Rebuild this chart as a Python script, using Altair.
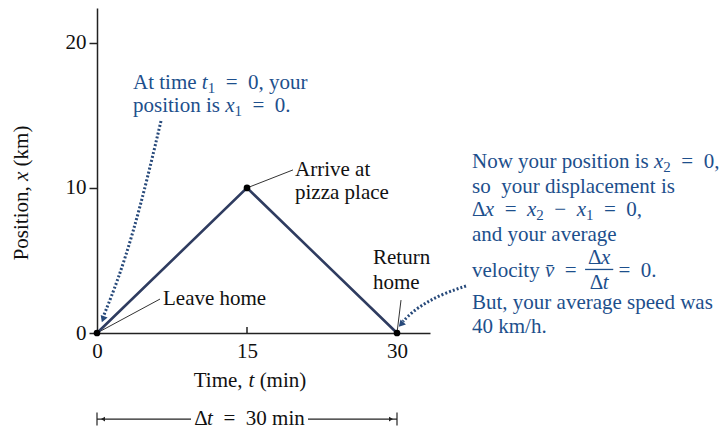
import altair as alt
import pandas as pd

FONT = "Liberation Serif"
BLUE = "#1d4f8c"
DOTS = "#27497a"
INK = "#111111"
NAVY = "#2f3c60"

# Plot-area geometry (pixels) and scale extents
W_PX, H_PX = 333, 325
T_MAX, X_MAX = 33.3, 22.4
PX_PER_MIN = W_PX / T_MAX
PX_PER_KM = H_PX / X_MAX

# Round trip: home -> pizza place -> home
trip_time = [0, 15, 30]
trip_pos = [0, 10, 0]

# Leader lines from a point on the trip to its label
leader_t = [0, 15, 30]
leader_x = [0, 10, 0]
leader_t2 = [6.3, 19.6, 30.4]
leader_x2 = [2.34, 11.24, 2.27]

# Black labels next to the graph
label_text = ["Leave home", "Arrive at", "pizza place", "Return", "home"]
label_t = [6.6, 19.8, 19.8, 27.6, 27.6]
label_x = [2.34, 11.23, 9.65, 5.17, 3.45]

# Dotted curved pointers
arrow1_t = [6.4, 5.0, 3.6, 2.1, 0.7]
arrow1_x = [14.61, 10.54, 6.89, 3.65, 1.25]
arrow2_t = [36.9, 34.8, 33.0, 31.5, 30.6]
arrow2_x = [3.24, 2.76, 2.14, 1.45, 0.8]
head_t = [0.6, 30.4]
head_x = [0.95, 0.6]
head_rot = [21, 43]

# Elapsed-time bracket under the axis
bracket_y = -5.93
bracket_seg_t = [0, 21.1]
bracket_seg_t2 = [9.4, 30]

# Character advances (per 1000 em) for a Times-metric serif
ADV = {" ": 250, "\u00a0": 250, ",": 250, ".": 250, "/": 278, "=": 564, "\u2212": 564,
       "(": 333, ")": 333, "\u0394": 612, "\u0304": 0}
ADV.update({d: 500 for d in "0123456789"})
ADV.update(dict(zip("abcdefghijklmnopqrstuvwxyz",
                    [444, 500, 444, 500, 444, 333, 500, 500, 278, 278, 500, 278, 778,
                     500, 500, 500, 500, 333, 389, 278, 500, 500, 722, 500, 500, 444])))
ADV.update({"A": 722, "B": 667, "N": 722, "P": 556, "T": 611, "L": 611, "R": 667})
ADV_IT = dict(ADV, x=444, v=444, t=278)

SIZE = 21
SUB_SIZE = 15
SUB_DROP = 5


def seg_width(text, style):
    table = ADV_IT if style == "i" else ADV
    size = SUB_SIZE if style == "s" else SIZE
    return sum(table.get(c, 500) for c in text) / 1000 * size


def run_width(segs):
    return sum(seg_width(s, st) for s, st in segs)


def flow(t0, x0, segs, color, vertical=False):
    """Lay text pieces end to end starting at (t0, x0)."""
    rows, off = [], 0.0
    for text, st in segs:
        # leading blanks become an offset, since the renderer drops them
        body = text.lstrip(" ")
        off += seg_width(text[: len(text) - len(body)], st)
        drop = SUB_DROP if st == "s" else 0
        if vertical:
            t, x = t0 - drop / PX_PER_MIN, x0 + off / PX_PER_KM
        else:
            t, x = t0 + off / PX_PER_MIN, x0 - drop / PX_PER_KM
        if body:
            rows.append(dict(t=t, x=x, text=body.replace(" ", "\u00a0"),
                             style="italic" if st == "i" else "normal",
                             size=SUB_SIZE if st == "s" else SIZE,
                             color=color, angle=270 if vertical else 0))
        off += seg_width(body, st)
    return rows, off


def centered(tc, xc, segs, color, vertical=False):
    half = run_width(segs) / 2
    if vertical:
        return flow(tc, xc - half / PX_PER_KM, segs, color, vertical)[0]
    return flow(tc - half / PX_PER_MIN, xc, segs, color)[0]


pieces = []
# Note at the start of the trip
pieces += flow(3.6, 17.23, [("At time ", "r"), ("t", "i"), ("1", "s"), ("  =  0, your", "r")], BLUE)[0]
pieces += flow(3.6, 15.65, [("position is ", "r"), ("x", "i"), ("1", "s"), ("  =  0.", "r")], BLUE)[0]

# Note at the end of the trip
RT = 37.5
pieces += flow(RT, 11.79, [("Now your position is ", "r"), ("x", "i"), ("2", "s"), ("  =  0,", "r")], BLUE)[0]
pieces += flow(RT, 10.06, [("so  your displacement is", "r")], BLUE)[0]
pieces += flow(RT, 8.48, [("\u0394", "r"), ("x", "i"), ("  =  ", "r"), ("x", "i"), ("2", "s"),
                          ("  \u2212  ", "r"), ("x", "i"), ("1", "s"), ("  =  0,", "r")], BLUE)[0]
pieces += flow(RT, 6.75, [("and your average", "r")], BLUE)[0]
vel_rows, vel_w = flow(RT, 4.27, [("velocity ", "r"), ("v\u0304", "i"), ("  =  ", "r")], BLUE)
pieces += vel_rows
num = [("\u0394", "r"), ("x", "i")]
den = [("\u0394", "r"), ("t", "i")]
bar_w = max(run_width(num), run_width(den)) + 6
bar_t0 = RT + (vel_w - 2) / PX_PER_MIN
bar_t1 = bar_t0 + bar_w / PX_PER_MIN
bar_mid = (bar_t0 + bar_t1) / 2
pieces += centered(bar_mid, 5.17, num, BLUE)
pieces += centered(bar_mid, 3.45, den, BLUE)
pieces += flow(bar_t1, 4.27, [(" =  0.", "r")], BLUE)[0]
pieces += flow(RT, 2.07, [("But, your average speed was", "r")], BLUE)[0]
pieces += flow(RT, 0.41, [("40 km/h.", "r")], BLUE)[0]

# Axis titles and bracket caption
pieces += centered(15.3, -3.31, [("Time, ", "r"), ("t", "i"), (" (min)", "r")], INK)
pieces += centered(-7.5, 9.65, [("Position, ", "r"), ("x", "i"), (" (km)", "r")], INK, vertical=True)
pieces += centered(15.25, bracket_y, [("\u0394", "r"), ("t", "i"), ("  =  30 min", "r")], INK)

for txt, t, x in zip(label_text, label_t, label_x):
    pieces += flow(t, x, [(txt, "r")], INK)[0]

text_df = pd.DataFrame(pieces)

xs = alt.Scale(domain=[0, T_MAX], nice=False, zero=False)
ys = alt.Scale(domain=[0, X_MAX], nice=False, zero=False)
x_axis = alt.Axis(values=[0, 15, 30], ticks=False, grid=False, title=None,
                  labelFlush=False, labelPadding=7, domainColor="#222", domainWidth=1.5)
y_axis = alt.Axis(values=[0, 10, 20], tickSize=8, tickColor="#222", tickWidth=1.5, grid=False,
                  title=None, labelFlush=False, labelPadding=3, domainColor="#222", domainWidth=1.5)


def X(field="t"):
    return alt.X(f"{field}:Q", scale=xs, axis=x_axis)


def Y(field="x"):
    return alt.Y(f"{field}:Q", scale=ys, axis=y_axis)


trip = pd.DataFrame({"t": trip_time, "x": trip_pos})
trip_line = alt.Chart(trip).mark_line(color=NAVY, strokeWidth=2.6).encode(x=X(), y=Y())
trip_dots = alt.Chart(trip).mark_circle(color="#000", size=45, opacity=1).encode(x=X(), y=Y())

mid_tick = alt.Chart(pd.DataFrame({"t": [15], "x": [0], "x2": [0.42]})).mark_rule(
    color="#222", strokeWidth=1.5).encode(x=X(), y=Y(), y2="x2:Q")

leaders = alt.Chart(pd.DataFrame({"t": leader_t, "x": leader_x, "t2": leader_t2, "x2": leader_x2})
                    ).mark_rule(color="#333", strokeWidth=1).encode(x=X(), y=Y(), x2="t2:Q", y2="x2:Q")

arrows = pd.DataFrame({
    "t": arrow1_t + arrow2_t,
    "x": arrow1_x + arrow2_x,
    "arrow": ["a"] * len(arrow1_t) + ["b"] * len(arrow2_t),
    "seq": list(range(len(arrow1_t))) + list(range(len(arrow2_t))),
})
arrow_lines = alt.Chart(arrows).mark_line(
    color=DOTS, strokeWidth=3, strokeDash=[2, 2], interpolate="basis").encode(
    x=X(), y=Y(), detail="arrow:N", order="seq:Q")
arrow_heads = alt.Chart(pd.DataFrame({"t": head_t, "x": head_x, "rot": head_rot})).mark_point(
    shape="triangle-down", filled=True, size=55, color=DOTS, opacity=1).encode(
    x=X(), y=Y(), angle=alt.Angle("rot:Q", scale=None))

bracket_lines = alt.Chart(pd.DataFrame({"t": bracket_seg_t, "t2": bracket_seg_t2,
                                        "x": [bracket_y] * 2})).mark_rule(
    color="#222", strokeWidth=1.2).encode(x=X(), x2="t2:Q", y=Y())
bracket_ends = alt.Chart(pd.DataFrame({"t": [0, 30], "x": [bracket_y + 0.45] * 2,
                                       "x2": [bracket_y - 0.45] * 2})).mark_rule(
    color="#222", strokeWidth=1.2).encode(x=X(), y=Y(), y2="x2:Q")
bracket_heads = alt.Chart(pd.DataFrame({"t": [0.6, 29.4], "x": [bracket_y] * 2,
                                        "shape": ["triangle-left", "triangle-right"]})).mark_point(
    filled=True, size=22, color="#222", opacity=1).encode(
    x=X(), y=Y(), shape=alt.Shape("shape:N", scale=None))


def text_layer(style):
    return alt.Chart(text_df[text_df["style"] == style]).mark_text(
        font=FONT, fontStyle=style, align="left", baseline="middle").encode(
        x=X(), y=Y(), text="text:N",
        size=alt.Size("size:Q", scale=None),
        color=alt.Color("color:N", scale=None),
        angle=alt.Angle("angle:Q", scale=None))


bar = alt.Chart(pd.DataFrame({"t": [bar_t0], "t2": [bar_t1], "x": [4.38]})).mark_rule(
    color=BLUE, strokeWidth=1.3).encode(x=X(), x2="t2:Q", y=Y())

chart = alt.layer(
    arrow_lines, arrow_heads, leaders, mid_tick, trip_line, trip_dots,
    bracket_lines, bracket_ends, bracket_heads, bar,
    text_layer("normal"), text_layer("italic"),
).properties(
    width=W_PX, height=H_PX,
    autosize=alt.AutoSizeParams(type="none"),
    padding={"left": 97, "top": 8, "right": 725 - 97 - W_PX, "bottom": 431 - 8 - H_PX},
    background="white",
).configure_view(stroke=None).configure_axis(
    labelFont=FONT, labelFontSize=21, labelColor=INK,
)

chart.save("out.html", embed_options={"renderer": "svg", "actions": False})
